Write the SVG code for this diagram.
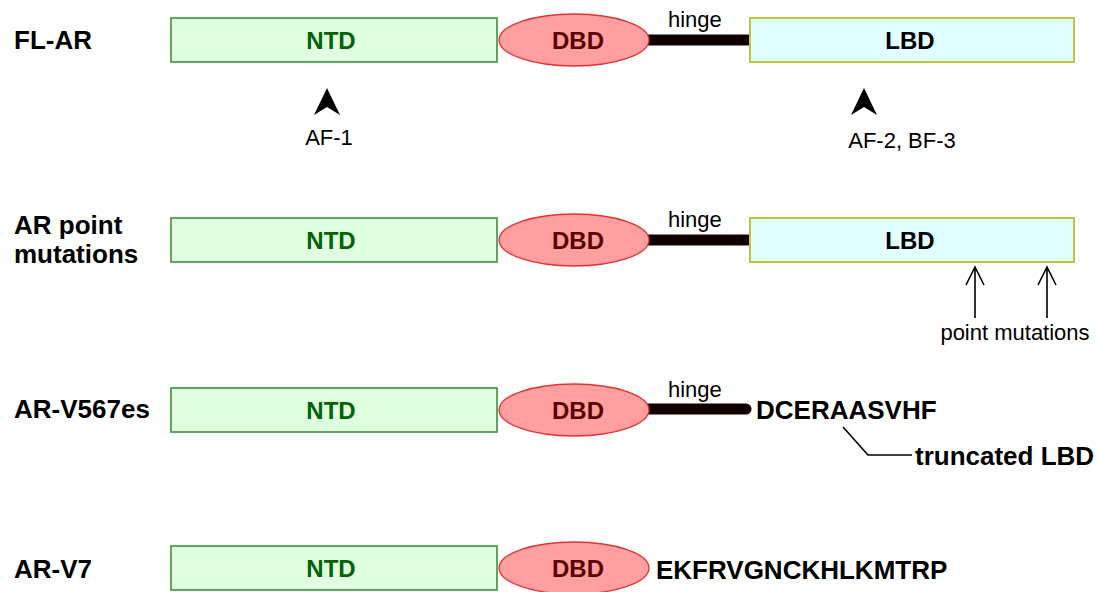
<svg xmlns="http://www.w3.org/2000/svg" width="1099" height="592" viewBox="0 0 1099 592">
<style>
.ntd{fill:#e0ffe0;stroke:#3d8f3d;stroke-width:1.6}
.lbd{fill:#e0ffff;stroke:#c2c23c;stroke-width:2}
.dbd{fill:#ff9f9f;stroke:#e03434;stroke-width:1.3}
.hinge{stroke:#120000;stroke-width:11;fill:none}
.lab{font-family:"Liberation Sans",Arial,sans-serif;font-weight:bold;font-size:26px;fill:#000}
.box{font-family:"Liberation Sans",Arial,sans-serif;font-weight:bold;font-size:24px;text-anchor:middle}
.ntdt{fill:#006400}
.dbdt{fill:#5a0000}
.norm{font-family:"Liberation Sans",Arial,sans-serif;font-size:22px;fill:#000}
.seq{font-family:"Liberation Sans",Arial,sans-serif;font-weight:bold;font-size:26px;fill:#000}
.thin{stroke:#000;stroke-width:1.6;fill:none}
</style>
<defs>
<path id="ah" d="M0,0 L13,27 L0,19 L-13,27 Z" fill="#000"/>
</defs>

<g id="fl-ar">
<text class="lab" x="14" y="49">FL-AR</text>
<g id="fl-ntd"><rect class="ntd" x="171" y="18" width="326" height="44"/><text class="box ntdt" x="331" y="49">NTD</text></g>
<g id="fl-hinge"><line class="hinge" x1="640" y1="40" x2="750" y2="40"/><text class="norm" x="668" y="27">hinge</text></g>
<g id="fl-dbd"><ellipse class="dbd" cx="574" cy="40" rx="75" ry="26"/><text class="box dbdt" x="578" y="49">DBD</text></g>
<g id="fl-lbd"><rect class="lbd" x="750" y="18" width="324" height="44"/><text class="box" x="910" y="49">LBD</text></g>
<g id="af1"><use href="#ah" x="327" y="88"/><text class="norm" x="329" y="145" text-anchor="middle">AF-1</text></g>
<g id="af2"><use href="#ah" x="864" y="88"/><text class="norm" x="902" y="148" text-anchor="middle">AF-2, BF-3</text></g>
</g>

<g id="ar-pm">
<text class="lab" x="14" y="234">AR point</text>
<text class="lab" x="14" y="263">mutations</text>
<g id="pm-ntd"><rect class="ntd" x="171" y="218" width="326" height="44"/><text class="box ntdt" x="331" y="249">NTD</text></g>
<g id="pm-hinge"><line class="hinge" x1="640" y1="240" x2="750" y2="240"/><text class="norm" x="668" y="227">hinge</text></g>
<g id="pm-dbd"><ellipse class="dbd" cx="574" cy="240" rx="75" ry="26"/><text class="box dbdt" x="578" y="249">DBD</text></g>
<g id="pm-lbd"><rect class="lbd" x="750" y="218" width="324" height="44"/><text class="box" x="910" y="249">LBD</text></g>
<g id="pm-label"><text class="norm" x="1015" y="340" text-anchor="middle">point mutations</text></g>
</g>

<g id="ar-v567es">
<text class="lab" x="14" y="418">AR-V567es</text>
<g id="v5-ntd"><rect class="ntd" x="171" y="388" width="326" height="44"/><text class="box ntdt" x="331" y="419">NTD</text></g>
<g id="v5-hinge"><line class="hinge" x1="620" y1="409" x2="746" y2="409" stroke-linecap="round"/><text class="norm" x="668" y="397">hinge</text></g>
<g id="v5-dbd"><ellipse class="dbd" cx="574" cy="410" rx="75" ry="26"/><text class="box dbdt" x="578" y="419">DBD</text></g>
<text class="seq" x="756" y="419">DCERAASVHF</text>
<text class="seq" x="915" y="465">truncated LBD</text>
</g>

<g id="ar-v7">
<text class="lab" x="14" y="578">AR-V7</text>
<g id="v7-ntd"><rect class="ntd" x="171" y="546" width="326" height="44"/><text class="box ntdt" x="331" y="577">NTD</text></g>
<g id="v7-dbd"><ellipse class="dbd" cx="574" cy="568" rx="75" ry="26"/><text class="box dbdt" x="578" y="577">DBD</text></g>
<text class="seq" x="656" y="579">EKFRVGNCKHLKMTRP</text>
</g>

<g id="connectors">
<path class="thin" d="M975,318 V267 M966,285 L975,267 L984,285"/>
<path class="thin" d="M1047,318 V267 M1038,285 L1047,267 L1056,285"/>
<path class="thin" d="M843,427 L868,455 H912"/>
</g>
</svg>
